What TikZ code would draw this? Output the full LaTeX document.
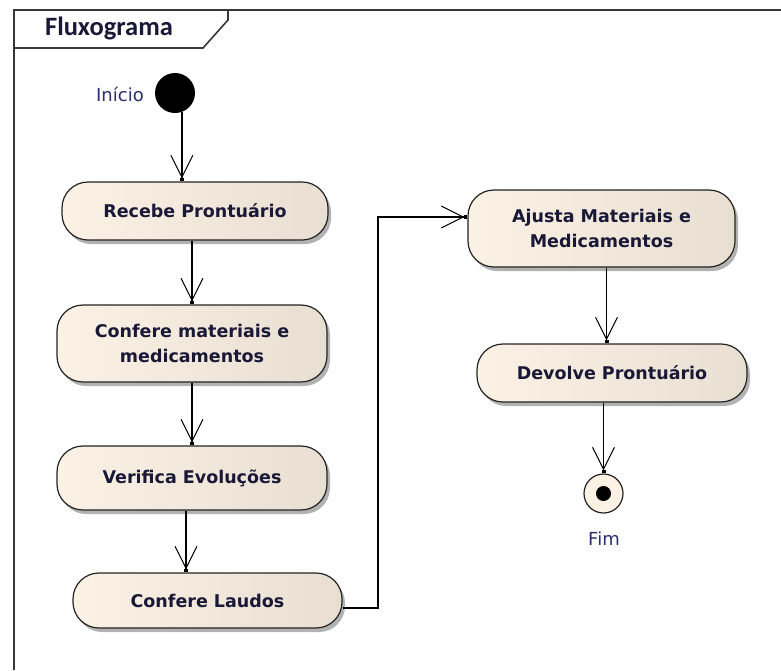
\documentclass[tikz,border=0pt]{standalone}
\usepackage{fontspec}
\usetikzlibrary{arrows.meta,shadows,calc}
\newfontfamily\boxfont{DejaVu Sans}
\newfontfamily\titlefont{Carlito}
\definecolor{navy}{RGB}{25,25,55}
\definecolor{lblue}{RGB}{45,45,110}
\definecolor{creamL}{RGB}{251,241,228}
\definecolor{creamR}{RGB}{232,222,210}
\definecolor{edge}{RGB}{35,35,35}
\definecolor{framec}{RGB}{55,55,55}
\begin{document}
\begin{tikzpicture}[x=1pt,y=-1pt,
  action/.style={rectangle, rounded corners=26pt, draw=edge, line width=1.2pt,
    left color=creamL, right color=creamR, text=navy, align=center,
    font=\boxfont\bfseries\fontsize{17.5}{25}\selectfont, inner sep=0pt,
    drop shadow={shadow xshift=3pt,shadow yshift=-4pt,opacity=0.3,fill=black}},
  flow/.style={draw=black, line width=1.2pt,
    -{Straight Barb[length=22pt,width=22pt,line width=1pt] Square[length=3pt,width=4pt]}},
  lbl/.style={text=lblue, font=\boxfont\fontsize{18}{22}\selectfont, inner sep=0pt, anchor=base}]
\useasboundingbox (0,0) rectangle (781,670);
% frame
\draw[framec, line width=1.6pt] (14,670) -- (14,10) -- (781,10);
\draw[framec, line width=1.6pt] (14,48) -- (203,48) -- (228,20) -- (228,10);
\node[anchor=base, text=navy, font=\titlefont\bfseries\fontsize{26.5}{30}\selectfont, inner sep=0pt] (title) at (109,35) {Fluxograma};
% start
\node[circle, fill=black, minimum size=40pt, inner sep=0pt] (start) at (175,93) {};
\node[lbl] (startlbl) at (120,101) {Início};
% actions
\node[action, minimum width=266pt, minimum height=58pt] (recebe) at (195,211) {Recebe Prontuário};
\node[action, minimum width=270pt, minimum height=77pt] (confmat) at (192,343.5) {Confere materiais e\\medicamentos};
\node[action, minimum width=270pt, minimum height=64pt] (verifica) at (192,478) {Verifica Evoluções};
\node[action, minimum width=269pt, minimum height=55pt] (laudos) at (207.5,600.5) {Confere Laudos};
\node[action, minimum width=267pt, minimum height=77pt] (ajusta) at (601.5,228.5) {Ajusta Materiais e\\Medicamentos};
\node[action, minimum width=270pt, minimum height=58pt] (devolve) at (612,373) {Devolve Prontuário};
% end
\node[circle, draw=edge, line width=1.2pt, fill=creamL, minimum size=39pt, inner sep=0pt] (fim) at (603.5,493.5) {};
\fill[black] (fim.center) circle (7.5pt);
\node[lbl] (fimlbl) at (604,545) {Fim};
% connectors
\coordinate (b1) at (378,608);
\coordinate (b2) at (378,217);
\draw[flow] (start.-70) -- (start.-70 |- recebe.north);
\draw[flow] (confmat.north |- recebe.south) -- (confmat.north);
\draw[flow] (verifica.north |- confmat.south) -- (verifica.north);
\draw[flow] ($(verifica.south)+(-6,0)$) -- ($(laudos.north)+(-21.5,0)$);
\draw[flow] (laudos.east |- b1) -- (b1) -- (b2) -- (ajusta.west |- b2);
\draw[flow] ($(ajusta.south)+(5,0)$) -- ($(devolve.north)+(-5.5,0)$);
\draw[flow] (fim.north |- devolve.south) -- (fim.north);
\end{tikzpicture}
\end{document}
